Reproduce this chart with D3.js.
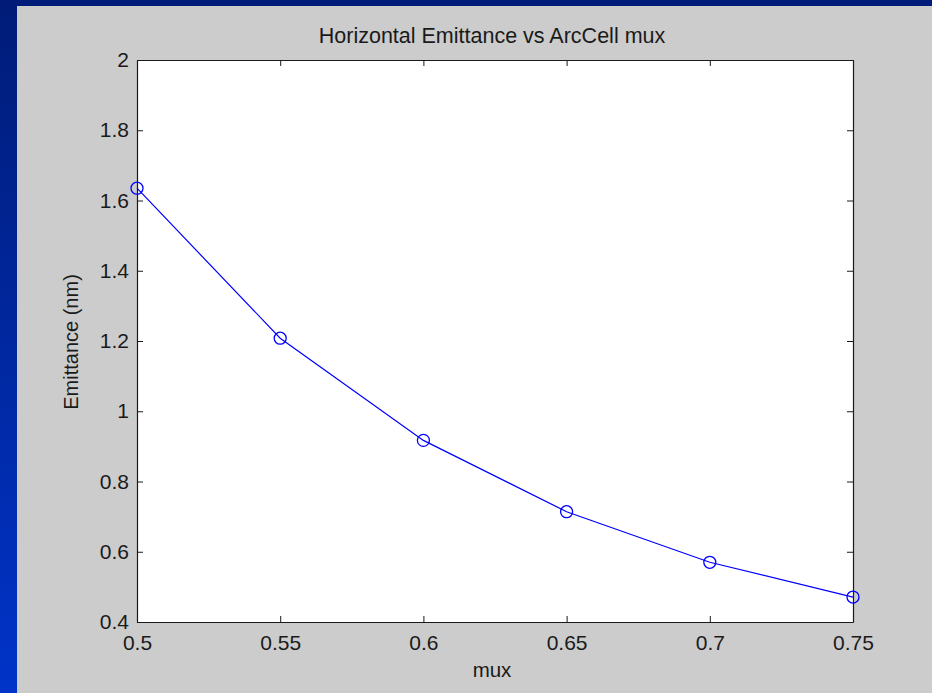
<!DOCTYPE html>
<html>
<head>
<meta charset="utf-8">
<script src="https://cdn.jsdelivr.net/npm/d3@7"></script>
<style>
  html, body { margin: 0; padding: 0; background: #0026a0; }
  svg { display: block; }
  text { font-family: "Liberation Sans", Arial, sans-serif; fill: #1a1a1a; }
</style>
</head>
<body>
<div id="chart"></div>
<script>
// Data
var muxValues = [0.5, 0.55, 0.6, 0.65, 0.7, 0.75];
var emittanceValues = [1.635, 1.208, 0.917, 0.714, 0.570, 0.471];
var xTicks = [0.5, 0.55, 0.6, 0.65, 0.7, 0.75];
var xTickLabels = ['0.5', '0.55', '0.6', '0.65', '0.7', '0.75'];
var yTicks = [0.4, 0.6, 0.8, 1, 1.2, 1.4, 1.6, 1.8, 2];
var yTickLabels = ['0.4', '0.6', '0.8', '1', '1.2', '1.4', '1.6', '1.8', '2'];

var W = 932, H = 693;

// Set margin parameters
var margin = {top: 60, right: 79, bottom: 71, left: 137},
    width = W - margin.left - margin.right,
    height = H - margin.top - margin.bottom;

var svg = d3.select('#chart')
    .append('svg')
    .attr('width', W)
    .attr('height', H);

// slide background: blue gradient + grey figure panel
var defs = svg.append('defs');
var grad = defs.append('linearGradient')
    .attr('id', 'slideGrad')
    .attr('x1', 0).attr('y1', 0).attr('x2', 0).attr('y2', 1);
grad.append('stop').attr('offset', '0%').attr('stop-color', '#001c78');
grad.append('stop').attr('offset', '100%').attr('stop-color', '#0033c8');

svg.append('rect')
    .attr('width', W).attr('height', H)
    .attr('fill', 'url(#slideGrad)');

svg.append('rect')
    .attr('x', 17).attr('y', 6)
    .attr('width', W - 17).attr('height', H - 6)
    .attr('fill', '#cccccc');

var g = svg.append('g')
    .attr('transform', 'translate(' + margin.left + ',' + margin.top + ')');

// plot area
g.append('rect')
    .attr('width', width).attr('height', height)
    .attr('fill', '#ffffff');

var x = d3.scaleLinear().domain([0.5, 0.75]).range([0, width]);
var y = d3.scaleLinear().domain([0.4, 2]).range([height, 0]);

function styleAxis(sel) {
  sel.selectAll('path').attr('stroke', '#1a1a1a').attr('stroke-width', 1.2);
  sel.selectAll('line').attr('stroke', '#1a1a1a');
  sel.selectAll('text').style('font-size', '21px').attr('fill', '#1a1a1a');
}

// bottom axis, ticks pointing inward
g.append('g')
    .attr('transform', 'translate(0,' + height + ')')
    .call(d3.axisBottom(x)
      .tickValues(xTicks)
      .tickFormat(function(d, i) { return xTickLabels[i]; })
      .tickSizeInner(-6).tickSizeOuter(0).tickPadding(13))
    .call(styleAxis);

// top axis, no labels
g.append('g')
    .call(d3.axisTop(x)
      .tickValues(xTicks)
      .tickFormat('')
      .tickSizeInner(-6).tickSizeOuter(0))
    .call(styleAxis);

// left axis
g.append('g')
    .call(d3.axisLeft(y)
      .tickValues(yTicks)
      .tickFormat(function(d, i) { return yTickLabels[i]; })
      .tickSizeInner(-6).tickSizeOuter(0).tickPadding(8))
    .call(styleAxis);

// right axis, no labels
g.append('g')
    .attr('transform', 'translate(' + width + ',0)')
    .call(d3.axisRight(y)
      .tickValues(yTicks)
      .tickFormat('')
      .tickSizeInner(-6).tickSizeOuter(0))
    .call(styleAxis);

// line
var line = d3.line()
    .x(function(d, i) { return x(muxValues[i]); })
    .y(function(d) { return y(d); });

g.append('path')
    .datum(emittanceValues)
    .attr('fill', 'none')
    .attr('stroke', '#0000ff')
    .attr('stroke-width', 1.2)
    .attr('d', line);

// circle markers
g.selectAll('circle.pt')
    .data(emittanceValues)
    .enter().append('circle')
    .attr('class', 'pt')
    .attr('cx', function(d, i) { return x(muxValues[i]); })
    .attr('cy', function(d) { return y(d); })
    .attr('r', 6)
    .attr('fill', 'none')
    .attr('stroke', '#0000ff')
    .attr('stroke-width', 1.3);

// title
svg.append('text')
    .attr('x', 492)
    .attr('y', 43)
    .attr('text-anchor', 'middle')
    .style('font-size', '21.5px')
    .text('Horizontal Emittance vs ArcCell mux');

// x label
svg.append('text')
    .attr('x', 492)
    .attr('y', 677)
    .attr('text-anchor', 'middle')
    .style('font-size', '20.5px')
    .text('mux');

// y label
svg.append('text')
    .attr('transform', 'translate(78,342) rotate(-90)')
    .attr('text-anchor', 'middle')
    .style('font-size', '20px')
    .text('Emittance (nm)');
</script>
</body>
</html>
